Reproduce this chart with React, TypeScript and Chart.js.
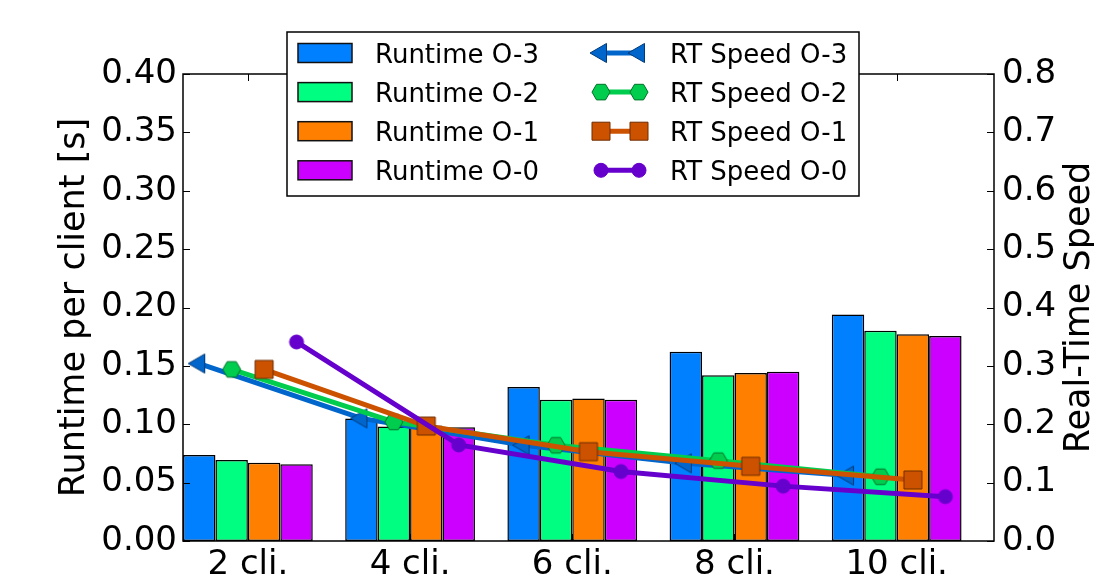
import React, { useEffect, useRef } from 'react';
import { Chart, registerables } from 'chart.js';

Chart.register(...registerables);

const categories = ['2 cli.', '4 cli.', '6 cli.', '8 cli.', '10 cli.'];

const runtimeO3 = [0.0737, 0.105, 0.132, 0.162, 0.194];
const runtimeO2 = [0.0694, 0.098, 0.121, 0.142, 0.18];
const runtimeO1 = [0.067, 0.099, 0.122, 0.144, 0.177];
const runtimeO0 = [0.0657, 0.0974, 0.121, 0.145, 0.1756];

const speedO3 = [0.304, 0.21, 0.164, 0.133, 0.112];
const speedO2 = [0.294, 0.204, 0.164, 0.1376, 0.11];
const speedO1 = [0.294, 0.197, 0.153, 0.128, 0.1045];
const speedO0 = [0.341, 0.1645, 0.119, 0.094, 0.076];

const leftTickValues = [0, 0.05, 0.1, 0.15, 0.2, 0.25, 0.3, 0.35, 0.4];
const rightTickValues = [0, 0.1, 0.2, 0.3, 0.4, 0.5, 0.6, 0.7, 0.8];

const leftTitle = 'Runtime per client [s]';
const rightTitle = 'Real-Time Speed';

const FONT = "'DejaVu Sans', 'Liberation Sans', sans-serif";

type MarkerKind = 'triangle' | 'hexagon' | 'square' | 'circle';

interface BarSeries { label: string; data: number[]; color: string; }
interface LineSeries { label: string; data: number[]; color: string; edge: string; marker: MarkerKind; }

const barSeries: BarSeries[] = [
  { label: 'Runtime O-3', data: runtimeO3, color: '#0080ff' },
  { label: 'Runtime O-2', data: runtimeO2, color: '#00ff80' },
  { label: 'Runtime O-1', data: runtimeO1, color: '#ff8000' },
  { label: 'Runtime O-0', data: runtimeO0, color: '#cc00ff' },
];

const lineSeries: LineSeries[] = [
  { label: 'RT Speed O-3', data: speedO3, color: '#0066cc', edge: '#003a78', marker: 'triangle' },
  { label: 'RT Speed O-2', data: speedO2, color: '#00cc4e', edge: '#00702a', marker: 'hexagon' },
  { label: 'RT Speed O-1', data: speedO1, color: '#cc5200', edge: '#6e2c00', marker: 'square' },
  { label: 'RT Speed O-0', data: speedO0, color: '#6600cc', edge: '#6600cc', marker: 'circle' },
];

const TRI_R = 11;
const HEX_R = 9;
const SQ_HALF = 9;
const CIRC_R = 7;
const LINE_W = 5;

function markerPath(ctx: CanvasRenderingContext2D, kind: MarkerKind, x: number, y: number) {
  ctx.beginPath();
  if (kind === 'triangle') {
    ctx.moveTo(x - TRI_R, y);
    ctx.lineTo(x + TRI_R * 0.5, y - TRI_R * 0.866);
    ctx.lineTo(x + TRI_R * 0.5, y + TRI_R * 0.866);
    ctx.closePath();
  } else if (kind === 'hexagon') {
    for (let k = 0; k < 6; k++) {
      const a = (k * Math.PI) / 3;
      const px = x + HEX_R * Math.cos(a);
      const py = y + HEX_R * Math.sin(a);
      if (k === 0) ctx.moveTo(px, py); else ctx.lineTo(px, py);
    }
    ctx.closePath();
  } else if (kind === 'square') {
    ctx.rect(x - SQ_HALF, y - SQ_HALF, SQ_HALF * 2, SQ_HALF * 2);
  } else {
    ctx.arc(x, y, CIRC_R, 0, Math.PI * 2);
  }
}

function drawMarker(ctx: CanvasRenderingContext2D, kind: MarkerKind, x: number, y: number, fill: string, edge: string) {
  markerPath(ctx, kind, x, y);
  ctx.fillStyle = fill;
  ctx.fill();
  ctx.lineWidth = 1;
  ctx.strokeStyle = edge;
  ctx.stroke();
}

function makeMarkerImage(kind: MarkerKind, fill: string, edge: string): HTMLCanvasElement {
  const c = document.createElement('canvas');
  const s = 28;
  c.width = s;
  c.height = s;
  const g = c.getContext('2d') as CanvasRenderingContext2D;
  drawMarker(g, kind, s / 2, s / 2, fill, edge);
  return c;
}

const decorPlugin = {
  id: 'decor',
  afterDatasetsDraw(chart: any) {
    const { ctx, chartArea: a, scales } = chart;
    ctx.save();
    ctx.strokeStyle = '#000';
    ctx.lineWidth = 1;
    ctx.beginPath();
    leftTickValues.forEach((v) => {
      const y = Math.round(scales.y.getPixelForValue(v)) + 0.5;
      ctx.moveTo(a.left, y);
      ctx.lineTo(a.left + 7, y);
    });
    rightTickValues.forEach((v) => {
      const y = Math.round(scales.y1.getPixelForValue(v)) + 0.5;
      ctx.moveTo(a.right - 7, y);
      ctx.lineTo(a.right, y);
    });
    categories.forEach((_c, i) => {
      const x = Math.round(scales.x.getPixelForValue(i)) + 0.5;
      ctx.moveTo(x, a.top);
      ctx.lineTo(x, a.top + 7);
      ctx.moveTo(x, a.bottom);
      ctx.lineTo(x, a.bottom - 7);
    });
    ctx.stroke();
    ctx.lineWidth = 1.5;
    ctx.strokeRect(a.left, a.top, a.right - a.left, a.bottom - a.top);
    ctx.restore();
  },
  afterDraw(chart: any) {
    const { ctx, chartArea: a } = chart;
    ctx.save();
    ctx.fillStyle = '#000';
    ctx.font = `35px ${FONT}`;
    ctx.textAlign = 'center';
    ctx.textBaseline = 'middle';
    const cy = (a.top + a.bottom) / 2;
    ctx.save();
    ctx.translate(75, cy);
    ctx.rotate(-Math.PI / 2);
    ctx.fillText(leftTitle, 0, 0);
    ctx.restore();
    ctx.save();
    ctx.translate(1080, cy);
    ctx.rotate(-Math.PI / 2);
    ctx.fillText(rightTitle, 0, 0);
    ctx.restore();

    // legend
    const lx0 = 287, ly0 = 32, lx1 = 859, ly1 = 196;
    ctx.fillStyle = '#fff';
    ctx.fillRect(lx0, ly0, lx1 - lx0, ly1 - ly0);
    ctx.lineWidth = 1.5;
    ctx.strokeStyle = '#000';
    ctx.strokeRect(lx0, ly0, lx1 - lx0, ly1 - ly0);
    ctx.font = `26px ${FONT}`;
    ctx.textAlign = 'left';
    ctx.textBaseline = 'alphabetic';
    const rowStep = 39.1;
    barSeries.forEach((s, i) => {
      const c = 53 + rowStep * i;
      ctx.fillStyle = s.color;
      ctx.fillRect(298, c - 9.5, 54, 19);
      ctx.lineWidth = 1.5;
      ctx.strokeStyle = '#111';
      ctx.strokeRect(298, c - 9.5, 54, 19);
      ctx.fillStyle = '#000';
      ctx.fillText(s.label, 375, c + 9.6);
    });
    lineSeries.forEach((s, i) => {
      const c = 53 + rowStep * i;
      ctx.beginPath();
      ctx.moveTo(601, c);
      ctx.lineTo(639, c);
      ctx.lineWidth = LINE_W;
      ctx.strokeStyle = s.color;
      ctx.stroke();
      drawMarker(ctx, s.marker, 601, c, s.color, s.edge);
      drawMarker(ctx, s.marker, 639, c, s.color, s.edge);
      ctx.fillStyle = '#000';
      ctx.fillText(s.label, 670, c + 9.6);
    });
    ctx.restore();
  },
};

export default function App() {
  const canvasRef = useRef<HTMLCanvasElement | null>(null);

  useEffect(() => {
    const canvas = canvasRef.current;
    if (!canvas) return;

    const offsets = lineSeries.map((_s, k) => (k - (lineSeries.length - 1) / 2) * 0.2);

    const datasets: any[] = [
      ...barSeries.map((s) => ({
        type: 'bar',
        label: s.label,
        data: s.data.map((v, i) => ({ x: i, y: v })),
        backgroundColor: s.color,
        borderColor: '#000',
        borderWidth: 1.5,
        borderSkipped: false,
        xAxisID: 'x',
        yAxisID: 'y',
        categoryPercentage: 0.8,
        barPercentage: 1.0,
        order: 10,
      })),
      ...lineSeries.map((s, k) => ({
        type: 'line',
        label: s.label,
        data: s.data.map((v, i) => ({ x: i + offsets[k], y: v })),
        borderColor: s.color,
        backgroundColor: s.color,
        borderWidth: LINE_W,
        tension: 0,
        fill: false,
        pointStyle: makeMarkerImage(s.marker, s.color, s.edge),
        pointRadius: 8,
        pointHoverRadius: 8,
        xAxisID: 'x',
        yAxisID: 'y1',
        order: lineSeries.length - 1 - k,
      })),
    ];

    const tickFont = { family: FONT, size: 34 };

    const chart = new Chart(canvas, {
      type: 'bar',
      data: { datasets },
      plugins: [decorPlugin],
      options: {
        responsive: false,
        animation: false,
        events: [],
        layout: { padding: { top: 74, left: 0, right: 0, bottom: 0 } },
        plugins: {
          legend: { display: false },
          tooltip: { enabled: false },
          title: { display: false },
        },
        scales: {
          x: {
            type: 'linear',
            position: 'bottom',
            min: -0.4,
            max: 4.6,
            offset: false,
            grid: { display: false, drawTicks: false, offset: false },
            border: { display: false },
            afterBuildTicks: (s: any) => { s.ticks = categories.map((_c, i) => ({ value: i })); },
            ticks: {
              font: tickFont,
              color: '#000',
              padding: 4,
              maxRotation: 0,
              minRotation: 0,
              autoSkip: false,
              callback: (_v: any, index: number) => categories[index],
            },
            afterFit: (s: any) => { s.height = 36; },
          },
          y: {
            type: 'linear',
            position: 'left',
            min: 0,
            max: 0.4,
            grid: { display: false, drawTicks: false },
            border: { display: false },
            afterBuildTicks: (s: any) => { s.ticks = leftTickValues.map((v) => ({ value: v })); },
            ticks: {
              font: tickFont,
              color: '#000',
              padding: 6,
              callback: (v: any) => Number(v).toFixed(2),
            },
            afterFit: (s: any) => { s.width = 183; },
          },
          y1: {
            type: 'linear',
            position: 'right',
            min: 0,
            max: 0.8,
            grid: { display: false, drawTicks: false },
            border: { display: false },
            afterBuildTicks: (s: any) => { s.ticks = rightTickValues.map((v) => ({ value: v })); },
            ticks: {
              font: tickFont,
              color: '#000',
              padding: 8,
              callback: (v: any) => Number(v).toFixed(1),
            },
            afterFit: (s: any) => { s.width = 100; },
          },
        },
      } as any,
    });

    return () => chart.destroy();
  }, []);

  return (
    <div style={{ position: 'absolute', left: 0, top: 0, width: 1094, height: 577, background: '#fff' }}>
      <canvas ref={canvasRef} width={1094} height={577} style={{ display: 'block' }} />
    </div>
  );
}
